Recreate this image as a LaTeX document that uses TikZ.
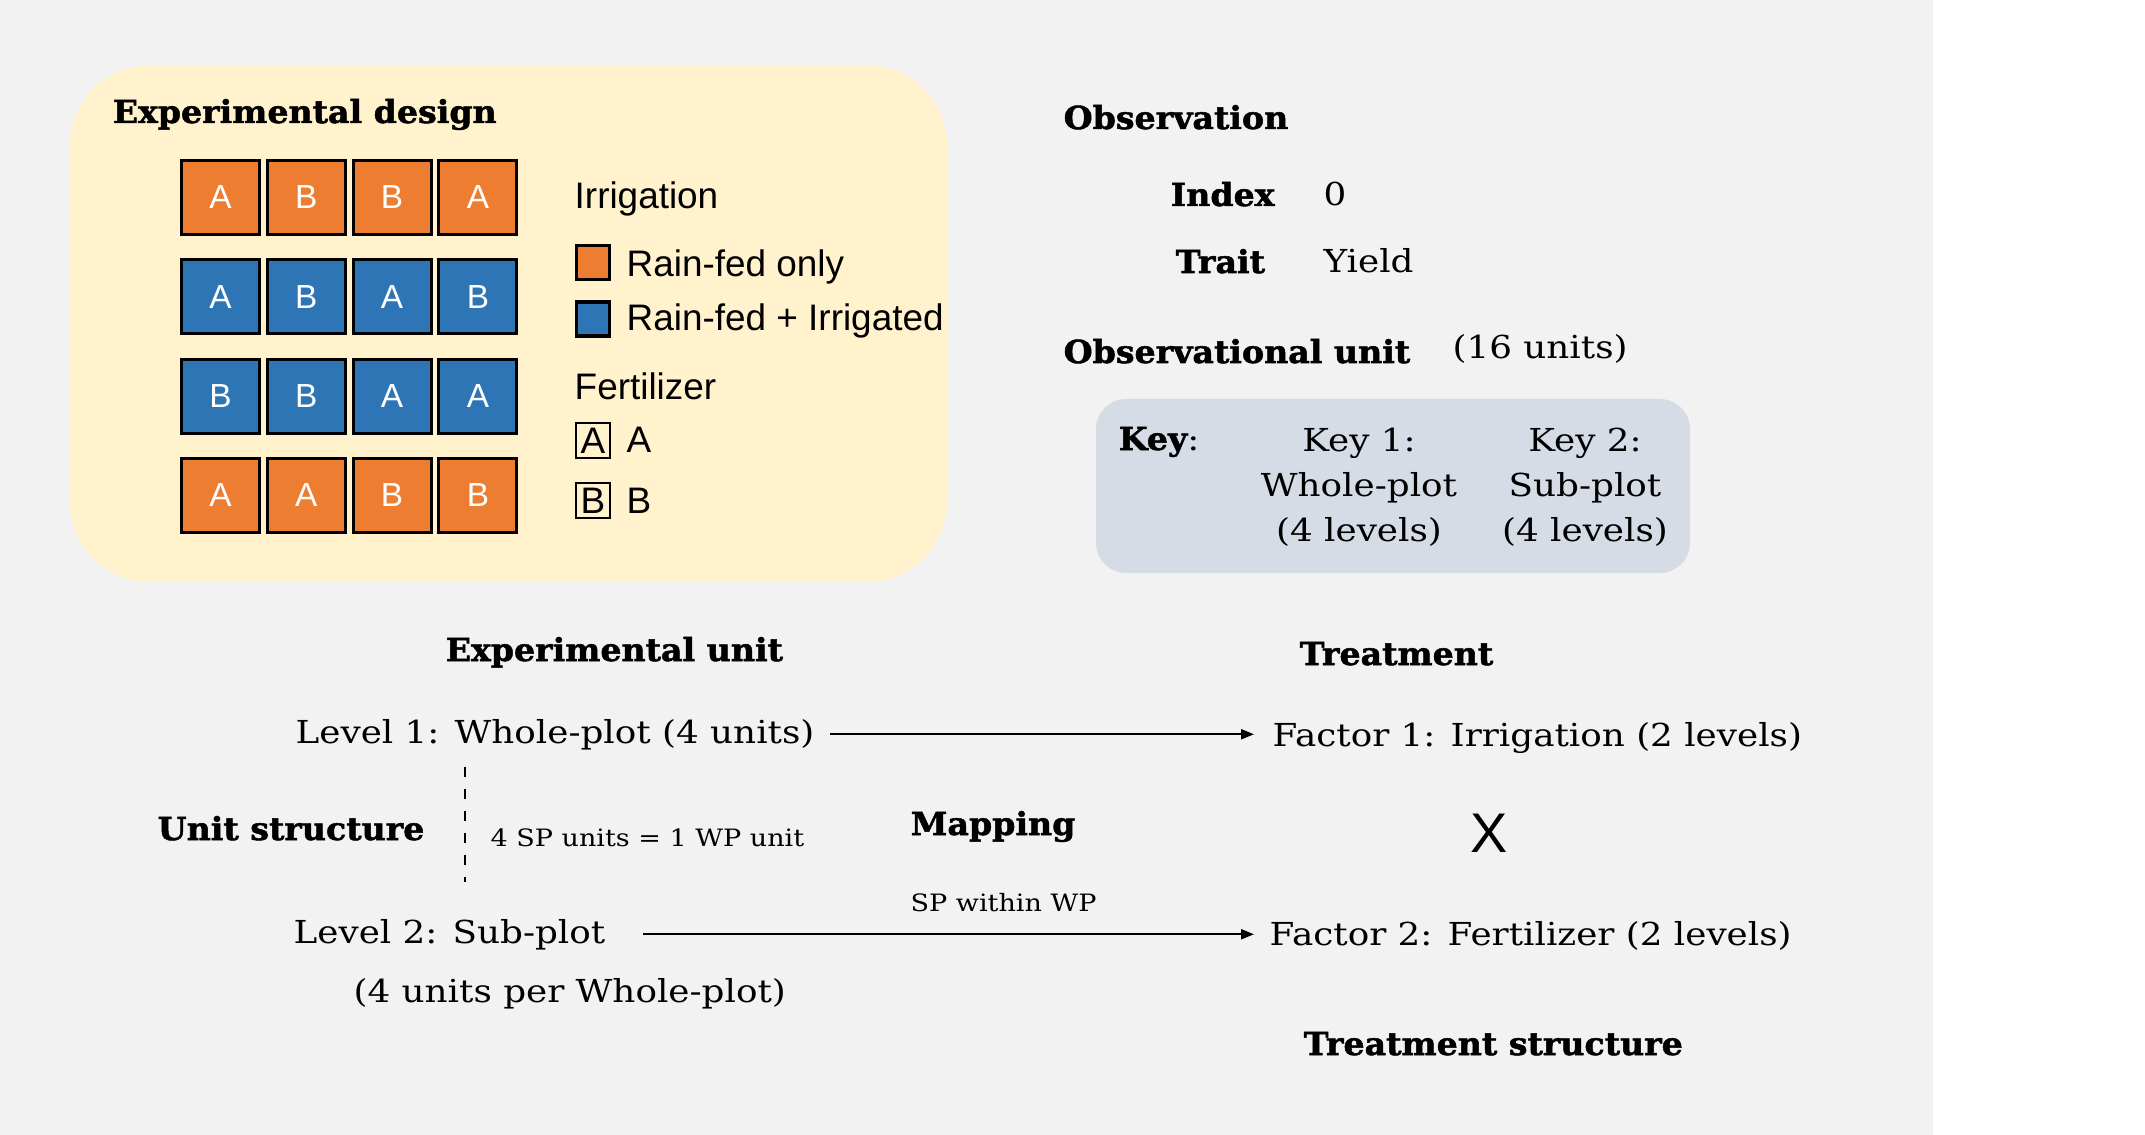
\documentclass[tikz,border=0pt]{standalone}
\usepackage{fontspec}
\setmainfont{DejaVu Serif}
\newfontfamily\serifreg{DejaVu Serif}[FakeStretch=1.13]
\newfontfamily\serifbold{DejaVu Serif}[FakeStretch=1.05, BoldFeatures={FakeBold=1.6}]
\newfontfamily\plotsans{Liberation Sans}
\usetikzlibrary{arrows.meta}

\definecolor{pagebg}{HTML}{F2F2F2}
\definecolor{designbg}{HTML}{FFF2CC}
\definecolor{keybg}{HTML}{D6DCE5}
\definecolor{rainfed}{HTML}{ED7D31}
\definecolor{irrigated}{HTML}{2E75B6}

\begin{document}
\begin{tikzpicture}[
    title/.style={font=\serifbold\bfseries\fontsize{9}{11}\selectfont, anchor=base west, inner sep=0pt},
    label/.style={font=\serifreg\fontsize{9}{12.8}\selectfont, anchor=base west, inner sep=0pt},
    note/.style={font=\serifreg\fontsize{6.8}{9}\selectfont, anchor=base west, inner sep=0pt},
    legend/.style={font=\plotsans\fontsize{10.5}{12}\selectfont, anchor=base west, inner sep=0pt},
    plotbox/.style={draw=black, line width=0.9pt, minimum width=0.78cm, minimum height=0.74cm,
      inner sep=0pt, text=white, font=\plotsans\fontsize{9.5}{11}\selectfont},
    rainplot/.style={plotbox, fill=rainfed},
    irrplot/.style={plotbox, fill=irrigated},
    colorkey/.style={draw=black, line width=0.9pt, minimum width=0.33cm, minimum height=0.34cm, inner sep=0pt},
    fertkey/.style={draw=black, line width=0.6pt, minimum width=0.34cm, minimum height=0.35cm,
      inner sep=0pt, font=\plotsans\fontsize{10.5}{12}\selectfont},
    maparrow/.style={line width=0.6pt, -{Triangle[length=1.3mm, width=1mm]}}
  ]
      \useasboundingbox (0,0) rectangle (21.45,-11.35);
      \fill[pagebg] (0,0) rectangle (19.33,-11.35);

      % Desenho experimental
      \fill[designbg, rounded corners=0.8cm] (0.70,-0.65) rectangle (9.47,-5.82);
      \node[title] (design) at (1.12,-1.23) {Experimental design};

      \node[rainplot] (t11) at (2.205,-1.975) {A};
      \node[rainplot] (t12) at (3.063,-1.975) {B};
      \node[rainplot] (t13) at (3.921,-1.975) {B};
      \node[rainplot] (t14) at (4.779,-1.975) {A};

      \node[irrplot] (t21) at (2.205,-2.968) {A};
      \node[irrplot] (t22) at (3.063,-2.968) {B};
      \node[irrplot] (t23) at (3.921,-2.968) {A};
      \node[irrplot] (t24) at (4.779,-2.968) {B};

      \node[irrplot] (t31) at (2.205,-3.961) {B};
      \node[irrplot] (t32) at (3.063,-3.961) {B};
      \node[irrplot] (t33) at (3.921,-3.961) {A};
      \node[irrplot] (t34) at (4.779,-3.961) {A};

      \node[rainplot] (t41) at (2.205,-4.954) {A};
      \node[rainplot] (t42) at (3.063,-4.954) {A};
      \node[rainplot] (t43) at (3.921,-4.954) {B};
      \node[rainplot] (t44) at (4.779,-4.954) {B};

      % Legenda
      \node[legend] (irrig) at (5.74,-2.09) {Irrigation};
      \node[colorkey, fill=rainfed] (keyrain) at (5.93,-2.625) {};
      \node[legend] (rainonly) at (6.26,-2.77) {Rain-fed only};
      \node[colorkey, fill=irrigated] (keyirr) at (5.93,-3.19) {};
      \node[legend] (rainirr) at (6.26,-3.31) {Rain-fed + Irrigated};

      \node[legend] (fert) at (5.74,-4.00) {Fertilizer};
      \node[fertkey] (keyA) at (5.93,-4.405) {A};
      \node[legend] (fertA) at (6.26,-4.53) {A};
      \node[fertkey] (keyB) at (5.93,-5.005) {B};
      \node[legend] (fertB) at (6.26,-5.13) {B};

      % Observacao
      \node[title] (obs) at (10.63,-1.29) {Observation};
      \node[title] (index) at (11.70,-2.06) {Index};
      \node[label] (indexval) at (13.23,-2.06) {0};
      \node[title] (trait) at (11.75,-2.73) {Trait};
      \node[label] (traitval) at (13.23,-2.73) {Yield};

      \node[title] (obsunit) at (10.63,-3.63) {Observational unit};
      \node[label] (obscount) at (14.52,-3.59) {(16 units)};

      \fill[keybg, rounded corners=0.3cm] (10.96,-3.99) rectangle (16.90,-5.73);
      \node[label] (key) at (11.18,-4.50) {{\serifbold\bfseries Key}:};
      \node[label, anchor=north, align=center] (key1) at (13.59,-4.27) {Key 1:\\Whole-plot\\(4 levels)};
      \node[label, anchor=north, align=center] (key2) at (15.85,-4.27) {Key 2:\\Sub-plot\\(4 levels)};

      % Unidades e tratamentos
      \node[title] (expunit) at (4.45,-6.61) {Experimental unit};
      \node[title] (treat) at (12.99,-6.65) {Treatment};

      \node[label] (lvl1) at (2.95,-7.43) {Level 1: Whole-plot (4 units)};
      \node[label] (fac1) at (12.72,-7.46) {Factor 1: Irrigation (2 levels)};
      \draw[maparrow, shorten <=0.15cm, shorten >=0.18cm] (lvl1.east) -- (lvl1.east -| fac1.west);

      \node[title] (unitstr) at (1.57,-8.40) {Unit structure};
      \coordinate (dtop) at (4.65,-7.67);
      \coordinate (dbot) at (4.65,-8.82);
      \draw[line width=0.5pt, dash pattern=on 0.1cm off 0.12cm] (dtop) -- (dbot);
      \node[note] (nest) at (4.90,-8.46) {4 SP units = 1 WP unit};

      \node[title] (mapping) at (9.10,-8.35) {Mapping};
      \node[font=\plotsans\fontsize{15.9}{18}\selectfont, inner sep=0pt] (cross) at (14.895,-8.33) {X};
      \node[note] (within) at (9.10,-9.11) {SP within WP};

      \node[label] (lvl2) at (2.93,-9.43) {Level 2: Sub-plot};
      \node[label] (fac2) at (12.69,-9.45) {Factor 2: Fertilizer (2 levels)};
      \draw[maparrow, shorten <=0.37cm, shorten >=0.15cm] (lvl2.east) -- (lvl2.east -| fac2.west);

      \node[label] (perwp) at (3.53,-10.02) {(4 units per Whole-plot)};
      \node[title] (treatstr) at (13.03,-10.55) {Treatment structure};

\end{tikzpicture}
\end{document}
